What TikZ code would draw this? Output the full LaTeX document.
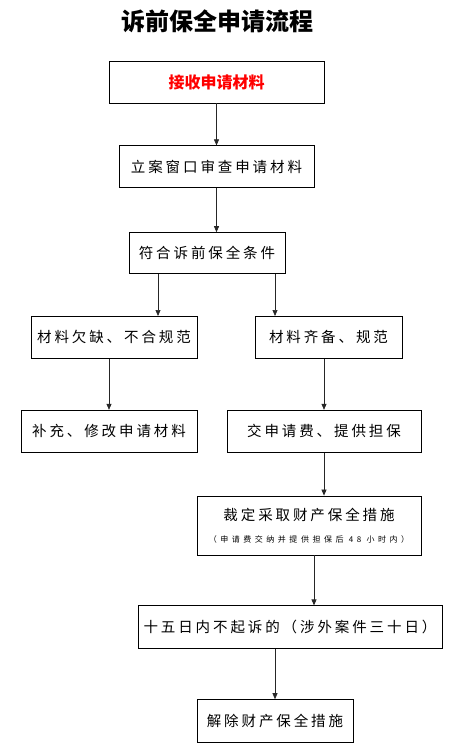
\documentclass[tikz,border=0pt]{standalone}
\usepackage{fontspec}
\setmainfont{Noto Sans CJK SC}
\newfontfamily\spaced{Noto Sans CJK SC}[LetterSpace=20]
\newfontfamily\widespaced{Noto Sans CJK SC}[LetterSpace=44]
\usetikzlibrary{positioning, arrows.meta}

\begin{document}
\begin{tikzpicture}[
    x=1pt, y=-1pt,
    node distance=42pt,
    box/.style={
        rectangle,
        draw,
        line width=0.8pt,
        align=center,
        minimum height=42pt,
        inner sep=2pt,
        font=\fontsize{14.5}{17}\spaced
    },
    arrow/.style={
        -{Triangle[length=6pt,width=5pt]},
        line width=0.7pt,
        draw=black!85
    }
]
\useasboundingbox (0,0) rectangle (453,746);

\node[font=\fontsize{24}{27}\selectfont\bfseries] (title) at (217,21)
{诉前保全申请流程};

\node[box, minimum width=215pt, text=red, font=\fontsize{16}{18}\selectfont\bfseries] (receive) at (216.5,82)
{接收申请材料};

\node[box, minimum width=195pt, below=42pt of receive] (review)
{立案窗口审查申请材料};

\node[box, minimum width=156pt, minimum height=41pt, below=44pt of review, xshift=-9.5pt] (qualify)
{符合诉前保全条件};

\node[box, minimum width=166pt, below=42pt of qualify, xshift=-93pt] (lacking)
{材料欠缺、不合规范};

\node[box, minimum width=147pt, below=42pt of qualify, xshift=121.5pt] (complete)
{材料齐备、规范};

\node[box, minimum width=176pt, below=51pt of lacking, xshift=-5pt] (supplement)
{补充、修改申请材料};

\node[box, minimum width=194pt, below=51pt of complete, xshift=-4.5pt] (payfee)
{交申请费、提供担保};

\node[box, minimum width=224pt, minimum height=59pt, below=43pt of payfee, xshift=-15pt] (ruling)
{裁定采取财产保全措施\\[4.5pt]{\fontsize{8}{9.5}\widespaced （申请费交纳并提供担保后 48 小时内）}};

\node[box, minimum width=304pt, minimum height=43pt, below=50pt of ruling, xshift=-19pt] (nosuit)
{十五日内不起诉的（涉外案件三十日）};

\node[box, minimum width=156pt, minimum height=43pt, below=50pt of nosuit, xshift=-15pt] (release)
{解除财产保全措施};

\draw[arrow] (receive) -- (review);
\draw[arrow] (review.south) -- (review.south |- qualify.north);
\draw[arrow] ([xshift=-49pt]qualify.south) -- ([xshift=-49pt]qualify.south |- lacking.north);
\draw[arrow] ([xshift=68pt]qualify.south) -- ([xshift=68pt]qualify.south |- complete.north);
\draw[arrow] (supplement.north |- lacking.south) -- (supplement.north);
\draw[arrow] (payfee.north |- complete.south) -- (payfee.north);
\draw[arrow] (payfee.south) -- (payfee.south |- ruling.north);
\draw[arrow] ([xshift=5pt]ruling.south) -- ([xshift=5pt]ruling.south |- nosuit.north);
\draw[arrow] (release.north |- nosuit.south) -- (release.north);
\end{tikzpicture}
\end{document}
